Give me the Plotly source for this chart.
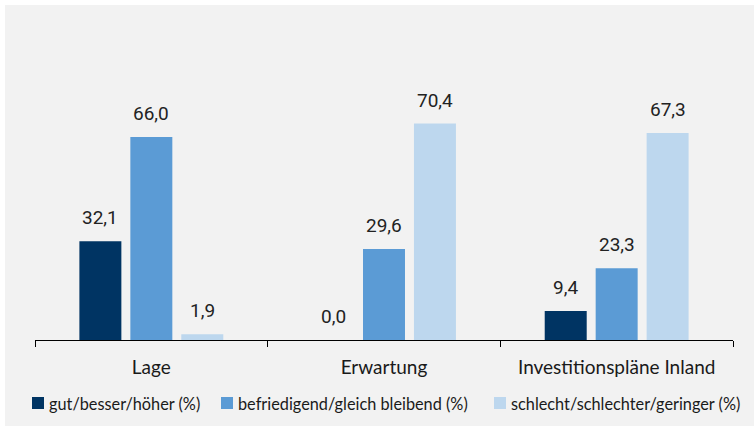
import plotly.graph_objects as go

categories = ["Lage", "Erwartung", "Investitionspläne Inland"]
series_names = [
    "gut/besser/höher (%)",
    "befriedigend/gleich bleibend (%)",
    "schlecht/schlechter/geringer (%)",
]
gut = [32.1, 0.0, 9.4]
befriedigend = [66.0, 29.6, 23.3]
schlecht = [1.9, 70.4, 67.3]
series_values = [gut, befriedigend, schlecht]
colors = ["#003463", "#5b9bd5", "#bdd7ee"]

W, H = 754, 426
L, R, T, B = 35, 21, 94, 86
PW, PH = W - L - R, H - T - B


def px_x(px):
    return (px - L) / PW


def px_y(py):
    return (H - B - py) / PH


fig = go.Figure()
for name, vals, col in zip(series_names, series_values, colors):
    fig.add_trace(go.Bar(x=categories, y=vals, name=name, marker_color=col,
                         marker_line_width=0, showlegend=False))

label_font = dict(family="Roboto", size=19, color="#222222")
annotations = []
# value labels above each bar
pitch = 51
for i, vals in enumerate(series_values):
    for cat, v in zip(categories, vals):
        annotations.append(dict(
            x=cat, y=v, xref="x", yref="y", xshift=(i - 1) * pitch,
            yanchor="bottom", yshift=10, showarrow=False,
            text=f"{v:.1f}".replace(".", ","), font=label_font))

# legend row
legend_font = dict(family="Lato", size=16.3, color="#1a1a1a")
square_x = [32, 221, 494]
text_x = [47, 236, 509]
shapes = [dict(type="rect", xref="paper", yref="paper", layer="below",
               x0=px_x(5), x1=px_x(W + 5), y0=px_y(H + 5), y1=px_y(5),
               fillcolor="#f2f2f2", line_width=0)]
for name, col, sx, tx in zip(series_names, colors, square_x, text_x):
    shapes.append(dict(type="rect", xref="paper", yref="paper",
                       x0=px_x(sx), x1=px_x(sx + 12), y0=px_y(409), y1=px_y(397),
                       fillcolor=col, line_width=0))
    annotations.append(dict(x=px_x(tx), y=px_y(403), xref="paper", yref="paper",
                            xanchor="left", yanchor="middle", showarrow=False,
                            text=name, font=legend_font))

fig.update_layout(
    width=W, height=H,
    margin=dict(l=L, r=R, t=T, b=B, pad=0),
    paper_bgcolor="white", plot_bgcolor="rgba(0,0,0,0)",
    barmode="group", bargap=0.343, bargroupgap=0.176,
    shapes=shapes, annotations=annotations,
)
fig.update_xaxes(type="category", showline=True, linecolor="black", linewidth=1,
                 ticks="outside", tickson="boundaries", ticklen=6,
                 tickcolor="black", tickwidth=1, showgrid=False,
                 ticklabelstandoff=10,
                 tickfont=dict(family="Lato", size=19, color="#1a1a1a"))
fig.update_yaxes(range=[0, 80], visible=False, showgrid=False)

fig.write_html("out.html")
